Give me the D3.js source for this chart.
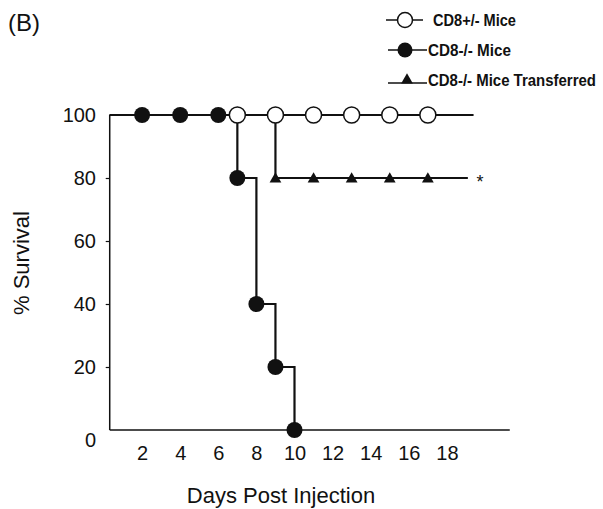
<!DOCTYPE html>
<html>
<head>
<meta charset="utf-8">
<script src="https://cdn.jsdelivr.net/npm/d3@7"></script>
<style>
  body { margin: 0; background: #fff; }
  text { font-family: Arial, "Liberation Sans", Helvetica, sans-serif; fill: #111; }
</style>
</head>
<body>
<script>
// tick labels
const xTicks = [2, 4, 6, 8, 10, 12, 14, 16, 18];
const yTicks = [0, 20, 40, 60, 80, 100];

// CD8+/- mice (open circles)
const hetDays = [7, 9, 11, 13, 15, 17];
const hetSurv = [100, 100, 100, 100, 100, 100];
const hetCurveDays = [0.3, 19.4];
const hetCurveSurv = [100, 100];

// CD8-/- mice (filled circles)
const koDays = [2, 4, 6, 7, 8, 9, 10];
const koSurv = [100, 100, 100, 80, 40, 20, 0];
const koCurveDays = [0.3, 7, 8, 9, 10];
const koCurveSurv = [100, 80, 40, 20, 0];

// CD8-/- mice transferred (triangles)
const trDays = [9, 11, 13, 15, 17];
const trSurv = [80, 80, 80, 80, 80];
const trCurveDays = [0.3, 9, 19.1];
const trCurveSurv = [100, 80, 80];

const legendLabels = ["CD8+/- Mice", "CD8-/- Mice", "CD8-/- Mice  Transferred"];

const W = 603, H = 509;
const svg = d3.select("body").append("svg")
    .attr("width", W)
    .attr("height", H);

const x = d3.scaleLinear().domain([0, 20]).range([104, 485]);
const y = d3.scaleLinear().domain([0, 100]).range([430, 115]);

const zip = (a, b) => a.map((d, i) => [d, b[i]]);

// panel label
svg.append("text")
    .attr("x", 8).attr("y", 31)
    .style("font-size", "24px")
    .text("(B)");

// y axis
const yAxis = svg.append("g")
    .attr("transform", `translate(${x(0.3)},0)`)
    .call(d3.axisLeft(y).tickValues(yTicks.filter(d => d > 0 && d < 100)).tickSize(4).tickFormat(""));
yAxis.select(".domain").remove();
yAxis.selectAll("line").attr("stroke", "#111").attr("stroke-width", 1.2);
svg.append("line")
    .attr("x1", x(0.3)).attr("x2", x(0.3))
    .attr("y1", y(100)).attr("y2", y(0))
    .attr("stroke", "#111").attr("stroke-width", 1.5);

svg.append("g").selectAll("text")
    .data(yTicks)
    .join("text")
    .attr("x", 96)
    .attr("y", d => d === 0 ? y(0) + 17 : y(d) + 7)
    .attr("text-anchor", "end")
    .style("font-size", "20px")
    .text(d => d);

// x axis
svg.append("line")
    .attr("x1", x(0.3)).attr("x2", x(21.3))
    .attr("y1", y(0)).attr("y2", y(0))
    .attr("stroke", "#111").attr("stroke-width", 1.5);

const xAxis = svg.append("g")
    .attr("transform", `translate(0,${y(0) + 12})`)
    .call(d3.axisBottom(x).tickValues(xTicks).tickSize(0).tickPadding(4));
xAxis.select(".domain").remove();
xAxis.selectAll("text")
    .style("font-size", "20px")
    .style("font-family", "Arial, 'Liberation Sans', sans-serif")
    .attr("fill", "#111");

// axis titles
svg.append("text")
    .attr("x", 281).attr("y", 503)
    .attr("text-anchor", "middle")
    .style("font-size", "22px")
    .text("Days Post Injection");

svg.append("text")
    .attr("transform", `translate(29,${y(53)}) rotate(-90)`)
    .attr("text-anchor", "middle")
    .style("font-size", "22px")
    .text("% Survival");

// survival curves
const line = d3.line()
    .x(d => x(d[0]))
    .y(d => y(d[1]))
    .curve(d3.curveStepAfter);

[[hetCurveDays, hetCurveSurv], [trCurveDays, trCurveSurv], [koCurveDays, koCurveSurv]]
    .forEach(([dd, ss]) => {
        svg.append("path")
            .datum(zip(dd, ss))
            .attr("d", line)
            .attr("fill", "none")
            .attr("stroke", "#111")
            .attr("stroke-width", 2.2);
    });

const tri = d3.symbol().type(d3.symbolTriangle).size(60);

// markers
svg.append("g").selectAll("path")
    .data(zip(trDays, trSurv))
    .join("path")
    .attr("d", tri)
    .attr("transform", d => `translate(${x(d[0])},${y(d[1]) + 1})`)
    .attr("fill", "#111");

svg.append("g").selectAll("circle")
    .data(zip(koDays, koSurv))
    .join("circle")
    .attr("cx", d => x(d[0]))
    .attr("cy", d => y(d[1]))
    .attr("r", 8)
    .attr("fill", "#111");

svg.append("g").selectAll("circle")
    .data(zip(hetDays, hetSurv))
    .join("circle")
    .attr("cx", d => x(d[0]))
    .attr("cy", d => y(d[1]))
    .attr("r", 8)
    .attr("fill", "#fff")
    .attr("stroke", "#111")
    .attr("stroke-width", 1.5);

// significance mark
svg.append("text")
    .attr("x", x(19.55)).attr("y", y(80) + 10)
    .style("font-size", "18px")
    .text("*");

// legend (text squeezed horizontally, like the condensed original)
const leg = svg.append("g");
const legY = [20, 50, 80];
const legW = [83, 83, 168];
legendLabels.forEach((lab, i) => {
    const g = leg.append("g").attr("transform", `translate(0,${legY[i]})`);
    g.append("line")
        .attr("x1", i === 0 ? 386 : 388).attr("x2", i === 0 ? 423 : 427)
        .attr("y1", i === 2 ? 3 : 0).attr("y2", i === 2 ? 3 : 0)
        .attr("stroke", "#111").attr("stroke-width", 1.5);
    if (i === 0) {
        g.append("circle").attr("cx", 405).attr("r", 7.5)
            .attr("fill", "#fff").attr("stroke", "#111").attr("stroke-width", 1.5);
    } else if (i === 1) {
        g.append("circle").attr("cx", 405).attr("r", 7.5).attr("fill", "#111");
    } else {
        g.append("path").attr("d", tri).attr("transform", "translate(407,0)").attr("fill", "#111");
    }
    const t = g.append("text")
        .style("font-size", "16px")
        .style("font-weight", "bold")
        .text(lab);
    const k = legW[i] / t.node().getComputedTextLength();
    t.attr("transform", `translate(${i === 0 ? 433 : 428},6) scale(${k},1)`);
});
</script>
</body>
</html>
